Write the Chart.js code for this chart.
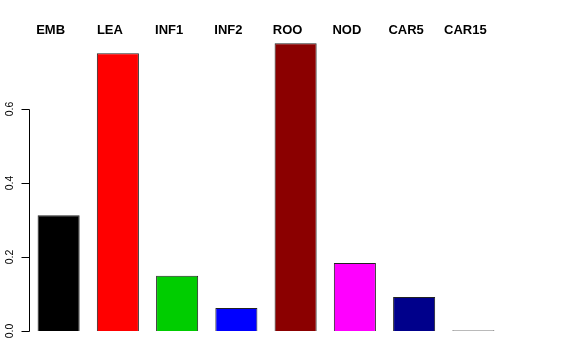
<!DOCTYPE html>
<html>
<head>
<meta charset="utf-8">
<script src="https://cdn.jsdelivr.net/npm/chart.js@4/dist/chart.umd.min.js"></script>
<style>
  html, body { margin: 0; padding: 0; background: #fff; }
  #wrap { width: 576px; height: 360px; position: relative; }
</style>
</head>
<body>
<div id="wrap"><canvas id="chart"></canvas></div>
<script>
const CATEGORIES = ["EMB", "LEA", "INF1", "INF2", "ROO", "NOD", "CAR5", "CAR15"];
const VALUES = [0.313, 0.751, 0.149, 0.062, 0.778, 0.184, 0.092, 0.002];
const BAR_COLORS = ["#000000", "#FF0000", "#00CD00", "#0000FF", "#8B0000", "#FF00FF", "#00008B", "#FFFFFF"];
const Y_TICKS = [0.0, 0.2, 0.4, 0.6];

// R-style left axis: line only over the tick range, rotated labels
const rAxis = {
    id: "rAxis",
    afterDraw(chart) {
        const y = chart.scales.y;
        const ctx = chart.ctx;
        const x0 = Math.round(chart.chartArea.left) + 0.5;
        ctx.save();
        ctx.strokeStyle = "#000";
        ctx.lineWidth = 1;
        ctx.beginPath();
        ctx.moveTo(x0, Math.round(y.getPixelForValue(Y_TICKS[0])) + 0.5);
        ctx.lineTo(x0, Math.round(y.getPixelForValue(Y_TICKS[Y_TICKS.length - 1])) + 0.5);
        Y_TICKS.forEach(v => {
            const py = Math.round(y.getPixelForValue(v)) + 0.5;
            ctx.moveTo(x0, py);
            ctx.lineTo(x0 - 8, py);
        });
        ctx.stroke();
        ctx.fillStyle = "#000";
        ctx.font = '10.5px "Liberation Sans", Arial, sans-serif';
        ctx.textAlign = "center";
        ctx.textBaseline = "middle";
        Y_TICKS.forEach(v => {
            ctx.save();
            ctx.translate(10, y.getPixelForValue(v));
            ctx.rotate(-Math.PI / 2);
            ctx.fillText(v.toFixed(1), 0, 0);
            ctx.restore();
        });
        ctx.restore();
    },
};

new Chart(document.getElementById("chart"), {
    type: "bar",
    data: {
        labels: CATEGORIES,
        datasets: [{
            data: VALUES,
            backgroundColor: BAR_COLORS,
            borderColor: "#222",
            borderWidth: 1,
            barPercentage: 0.71,
            categoryPercentage: 1,
        }],
    },
    options: {
        responsive: true,
        maintainAspectRatio: false,
        animation: false,
        layout: { padding: { left: 29, right: 73, bottom: 29, top: 0 } },
        plugins: { legend: { display: false }, tooltip: { enabled: false } },
        scales: {
            x: { display: false },
            x2: {
                type: "category",
                labels: CATEGORIES,
                position: "top",
                offset: true,
                grid: { display: false, drawTicks: false, tickLength: 0 },
                border: { display: false },
                afterFit: (s) => { s.height = 35; },
                ticks: {
                    color: "#000",
                    font: { family: '"Liberation Sans", Arial, sans-serif', size: 13, weight: "bold" },
                    labelOffset: -8,
                    padding: -3,
                    maxRotation: 0,
                    autoSkip: false,
                },
            },
            y: {
                display: false,
                min: 0,
                max: 0.8,
            },
        },
    },
    plugins: [rAxis],
});
</script>
</body>
</html>
